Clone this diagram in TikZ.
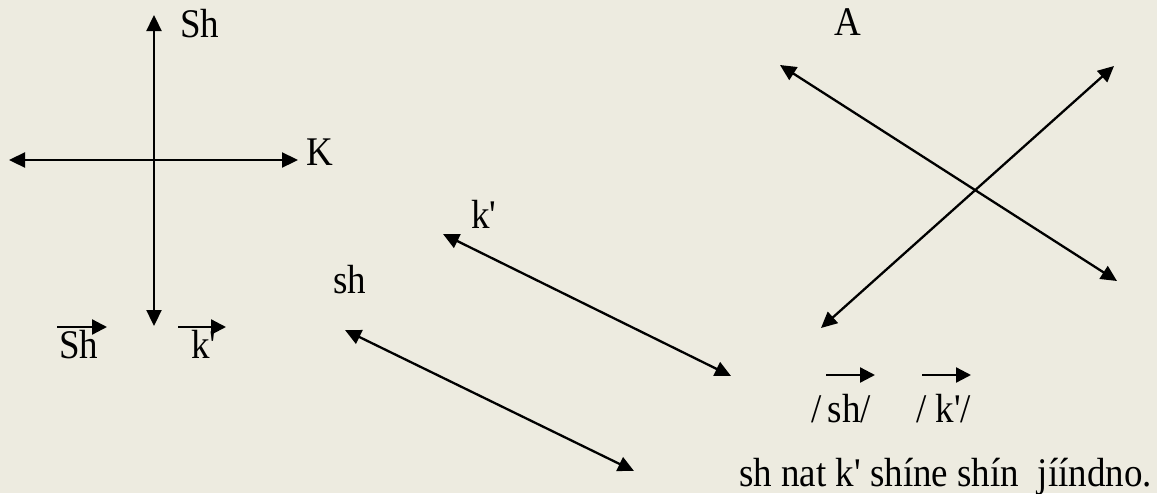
\documentclass[tikz,border=0pt]{standalone}
\usepackage{fontspec}
\setmainfont{Liberation Serif}
\usetikzlibrary{arrows.meta}
\definecolor{bg}{RGB}{237,235,224}
\newcommand{\ap}{\textquotesingle}
\newcommand{\tall}[1]{\scalebox{1}[1.1]{#1}}
\tikzset{
  darr/.style={line width=2.3pt, {Triangle[length=16pt,width=15pt]}-{Triangle[length=16pt,width=15pt]}},
  sarr/.style={line width=2.3pt, -{Triangle[length=15pt,width=15pt]}},
  lbl/.style={inner sep=0pt, anchor=base west, font=\fontsize{37}{40}\selectfont}
}
\begin{document}
\begin{tikzpicture}[x=1pt,y=-1pt]
\fill[bg] (0,0) rectangle (1157,493);
\useasboundingbox (0,0) rectangle (1157,493);
% left cross
\coordinate (vt) at (154,15);
\coordinate (vb) at (154,326);
\coordinate (hl) at (9,160);
\coordinate (hr) at (298,160);
\draw[darr] (vb) -- (vt);
\draw[darr] (hl) -- (hr);
\node[lbl] (Sh) at (180,37) {\tall{Sh}};
\node[lbl] (K) at (306,165) {\tall{K}};
% small vectors
\node[lbl] (Shv) at (59,358) {\tall{Sh}};
\node[lbl] (kv) at (191,358) {\tall{k\ap}};
\coordinate (s1a) at (57,327);
\coordinate (s1b) at (107,327);
\coordinate (s2a) at (178,327);
\coordinate (s2b) at (226,327);
\draw[sarr] (s1a) -- (s1b);
\draw[sarr] (s2a) -- (s2b);
% middle parallel arrows
\coordinate (k1) at (443,234);
\coordinate (k2) at (731,376);
\coordinate (h1) at (345,330);
\coordinate (h2) at (634,471);
\draw[darr] (k1) -- (k2);
\draw[darr] (h1) -- (h2);
\node[lbl] (kp) at (471,228) {\tall{k\ap}};
\node[lbl] (sh) at (333,293) {\tall{sh}};
% right X
\coordinate (a1) at (780,65);
\coordinate (a2) at (1117,281);
\coordinate (b1) at (1114,66);
\coordinate (b2) at (821,328);
\draw[darr] (a1) -- (a2);
\draw[darr] (b1) -- (b2);
\node[lbl] (A) at (834,35) {\tall{A}};
% bottom right vectors
\coordinate (r1a) at (826,375);
\coordinate (r1b) at (875,375);
\coordinate (r2a) at (922,375);
\coordinate (r2b) at (971,375);
\draw[sarr] (r1a) -- (r1b);
\draw[sarr] (r2a) -- (r2b);
\node[lbl] (shs) at (811,422) {\tall{/\,sh/}};
\node[lbl] (kps) at (916,422) {\tall{/ k\ap/}};
\node[lbl] (sent) at (739,486) {\tall{sh nat k\ap{} shíne shín\ \ jííndno.}};
\end{tikzpicture}
\end{document}
